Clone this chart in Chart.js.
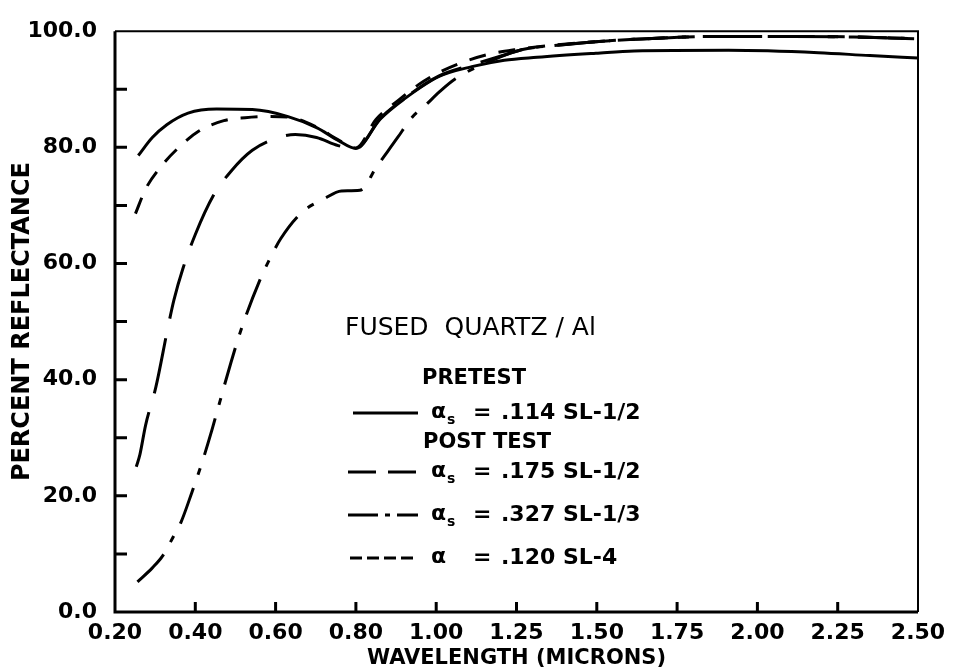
<!DOCTYPE html>
<html>
<head>
<meta charset="utf-8">
<title>Fused Quartz / Al reflectance</title>
<script src="https://cdn.jsdelivr.net/npm/chart.js@4.4.0/dist/chart.umd.min.js"></script>
<style>
    html, body { margin: 0; padding: 0; background: #fff; }
    #wrap { width: 959px; height: 672px; }
</style>
</head>
<body>
<div id="wrap"><canvas id="chart" width="959" height="672"></canvas></div>
<script>
// x axis: ticks are evenly spaced but the step changes after 0.80
const xTicks = [0.20, 0.40, 0.60, 0.80, 1.00, 1.25, 1.50, 1.75, 2.00, 2.25, 2.50];
const xTickLabels = ['0.20', '0.40', '0.60', '0.80', '1.00', '1.25', '1.50', '1.75', '2.00', '2.25', '2.50'];
const yTickLabels = ['0.0', '20.0', '40.0', '60.0', '80.0', '100.0'];

// Pretest, a_s = .114 SL-1/2 (solid)
const preWl = [0.258, 0.293, 0.329, 0.382, 0.453, 0.542, 0.631, 0.702, 0.756, 0.800, 0.861, 0.920, 1.009, 1.111, 1.212, 1.314, 1.497, 1.616, 1.910, 2.190, 2.350, 2.500];
const preR  = [78.6, 81.7, 83.9, 85.9, 86.6, 86.5, 85.3, 83.4, 81.2, 79.8, 84.9, 88.3, 92.2, 93.9, 95.0, 95.5, 96.2, 96.6, 96.7, 96.3, 95.8, 95.4];

// Post test, a_s = .175 SL-1/2 (long dash)
const post1Wl = [0.253, 0.262, 0.276, 0.302, 0.333, 0.347, 0.369, 0.400, 0.445, 0.489, 0.542, 0.613, 0.649, 0.702, 0.756, 0.800, 0.861, 0.920, 1.009, 1.111, 1.212, 1.273, 1.364, 1.497, 1.616, 1.870, 2.110, 2.300, 2.500];
const post1R  = [25.0, 27.1, 32.1, 38.8, 49.4, 53.8, 59.1, 65.0, 71.7, 75.9, 79.5, 81.8, 82.2, 81.7, 80.3, 79.8, 85.0, 88.4, 92.3, 94.2, 95.9, 96.9, 97.5, 98.2, 98.6, 99.1, 99.1, 99.0, 98.7];

// Post test, a_s = .327 SL-1/3 (dash-dot)
const post2Wl = [0.256, 0.293, 0.320, 0.347, 0.364, 0.391, 0.418, 0.440, 0.453, 0.489, 0.516, 0.560, 0.587, 0.613, 0.667, 0.720, 0.764, 0.810, 0.852, 0.878, 0.904, 0.939, 0.974, 1.009, 1.060, 1.200, 1.273, 1.364, 1.497, 1.616, 1.870, 2.110, 2.300, 2.500];
const post2R  = [5.2, 7.6, 9.8, 13.2, 15.4, 20.5, 26.0, 31.0, 34.2, 43.0, 49.0, 57.0, 61.0, 64.3, 68.9, 71.1, 72.5, 72.6, 76.7, 79.2, 81.7, 85.1, 87.3, 89.5, 91.8, 95.6, 96.9, 97.5, 98.2, 98.6, 99.1, 99.1, 99.0, 98.7];

// Post test, a = .120 SL-4 (short dash)
const post3Wl = [0.251, 0.276, 0.311, 0.356, 0.409, 0.471, 0.524, 0.578, 0.631, 0.702, 0.756, 0.800, 0.850, 0.904, 0.956, 1.009, 1.080, 1.162, 1.243, 1.364, 1.497, 1.616, 1.870, 2.110, 2.300, 2.500];
const post3R  = [68.6, 72.8, 76.4, 79.8, 82.8, 84.6, 85.1, 85.3, 85.2, 83.5, 81.3, 79.9, 84.8, 88.0, 90.8, 92.9, 94.6, 96.0, 96.8, 97.6, 98.2, 98.6, 99.1, 99.1, 99.0, 98.7];

// wavelength -> position on the evenly spaced tick axis
function toPos(w) {
    for (let i = 0; i < xTicks.length - 1; i++) {
        if (w <= xTicks[i + 1]) {
            return i + (w - xTicks[i]) / (xTicks[i + 1] - xTicks[i]);
        }
    }
    return xTicks.length - 1;
}

function points(wl, r) {
    return wl.map((w, i) => ({ x: toPos(w), y: r[i] }));
}

const FONT = '"DejaVu Sans", sans-serif';

function series(label, wl, r, dash) {
    return {
        label: label,
        data: points(wl, r),
        borderColor: '#000',
        borderWidth: 3,
        borderDash: dash,
        pointRadius: 0,
        fill: false,
        cubicInterpolationMode: 'monotone'
    };
}

// frame, inward tick marks and the hand-lettered legend
const overlay = {
    id: 'overlay',
    afterDraw(chart) {
        const ctx = chart.ctx;
        const a = chart.chartArea;
        const xs = chart.scales.x;
        const ys = chart.scales.y;
        ctx.save();
        ctx.strokeStyle = '#000';
        ctx.setLineDash([]);

        // frame
        ctx.lineWidth = 2;
        ctx.beginPath();
        ctx.moveTo(a.left, a.top);
        ctx.lineTo(a.right, a.top);
        ctx.lineTo(a.right, a.bottom);
        ctx.stroke();
        ctx.lineWidth = 3;
        ctx.beginPath();
        ctx.moveTo(a.left, a.top);
        ctx.lineTo(a.left, a.bottom);
        ctx.lineTo(a.right, a.bottom);
        ctx.stroke();

        // tick marks pointing into the plot
        ctx.beginPath();
        for (let v = 10; v < 100; v += 10) {
            const py = ys.getPixelForValue(v);
            ctx.moveTo(a.left, py);
            ctx.lineTo(a.left + 12, py);
        }
        for (let i = 1; i < xTicks.length - 1; i++) {
            const px = xs.getPixelForValue(i);
            ctx.moveTo(px, a.bottom);
            ctx.lineTo(px, a.bottom - 10);
        }
        ctx.stroke();

        // legend block
        ctx.fillStyle = '#000';
        ctx.textBaseline = 'middle';
        ctx.textAlign = 'left';
        ctx.font = '25px ' + FONT;
        ctx.fillText('FUSED  QUARTZ / Al', 345, 328);

        ctx.font = 'bold 21px ' + FONT;
        ctx.fillText('PRETEST', 422, 379);
        ctx.fillText('POST TEST', 423, 443);

        const rows = [
            { y: 413, dash: [], sym: 'α', sub: 's', text: '.114 SL-1/2', x0: 353, x1: 418 },
            { y: 472, dash: [28, 12], sym: 'α', sub: 's', text: '.175 SL-1/2', x0: 348, x1: 418 },
            { y: 515, dash: [30, 7, 5, 7], sym: 'α', sub: 's', text: '.327 SL-1/3', x0: 348, x1: 418 },
            { y: 558, dash: [12, 5], sym: 'α', sub: '', text: '.120 SL-4', x0: 350, x1: 416 }
        ];
        rows.forEach(r => {
            ctx.lineWidth = 3;
            ctx.setLineDash(r.dash);
            ctx.beginPath();
            ctx.moveTo(r.x0, r.y);
            ctx.lineTo(r.x1, r.y);
            ctx.stroke();
            ctx.setLineDash([]);
            ctx.font = 'bold 22px ' + FONT;
            ctx.fillText(r.sym, 431, r.y - 1);
            if (r.sub) {
                ctx.font = 'bold 14px ' + FONT;
                ctx.fillText(r.sub, 447, r.y + 7);
            }
            ctx.font = 'bold 22px ' + FONT;
            ctx.fillText('=', 473, r.y);
            ctx.fillText(r.text, 501, r.y);
        });
        ctx.restore();
    }
};

new Chart(document.getElementById('chart').getContext('2d'), {
    type: 'line',
    data: {
        datasets: [
            series('a_s = .114 SL-1/2', preWl, preR, []),
            series('a_s = .175 SL-1/2', post1Wl, post1R, [56, 20]),
            series('a_s = .327 SL-1/3', post2Wl, post2R, [38, 14, 7, 14]),
            series('a = .120 SL-4', post3Wl, post3R, [17, 13])
        ]
    },
    options: {
        responsive: false,
        devicePixelRatio: 1,
        animation: false,
        layout: { padding: { top: 14, right: 41, bottom: 0, left: 0 } },
        plugins: {
            legend: { display: false },
            tooltip: { enabled: false }
        },
        scales: {
            x: {
                type: 'linear',
                min: 0,
                max: xTicks.length - 1,
                afterFit: s => { s.height = 60; },
                grid: { display: false, drawTicks: false },
                border: { display: false },
                ticks: {
                    stepSize: 1,
                    autoSkip: false,
                    maxRotation: 0,
                    padding: 8,
                    color: '#000',
                    font: { family: FONT, size: 22, weight: 'bold' },
                    callback: v => xTickLabels[v] ?? ''
                },
                title: {
                    display: true,
                    text: 'WAVELENGTH (MICRONS)',
                    color: '#000',
                    font: { family: FONT, size: 21, weight: 'bold' },
                    padding: { top: 0, bottom: 1 }
                }
            },
            y: {
                min: 0,
                max: 100,
                afterFit: s => { s.width = 115; },
                grid: { display: false, drawTicks: false },
                border: { display: false },
                ticks: {
                    stepSize: 20,
                    padding: 18,
                    color: '#000',
                    font: { family: FONT, size: 22, weight: 'bold' },
                    callback: v => yTickLabels[v / 20] ?? ''
                },
                title: {
                    display: true,
                    text: 'PERCENT REFLECTANCE',
                    color: '#000',
                    font: { family: FONT, size: 24, weight: 'bold' },
                    padding: { top: 8, bottom: 0 }
                }
            }
        }
    },
    plugins: [overlay]
});
</script>
</body>
</html>
